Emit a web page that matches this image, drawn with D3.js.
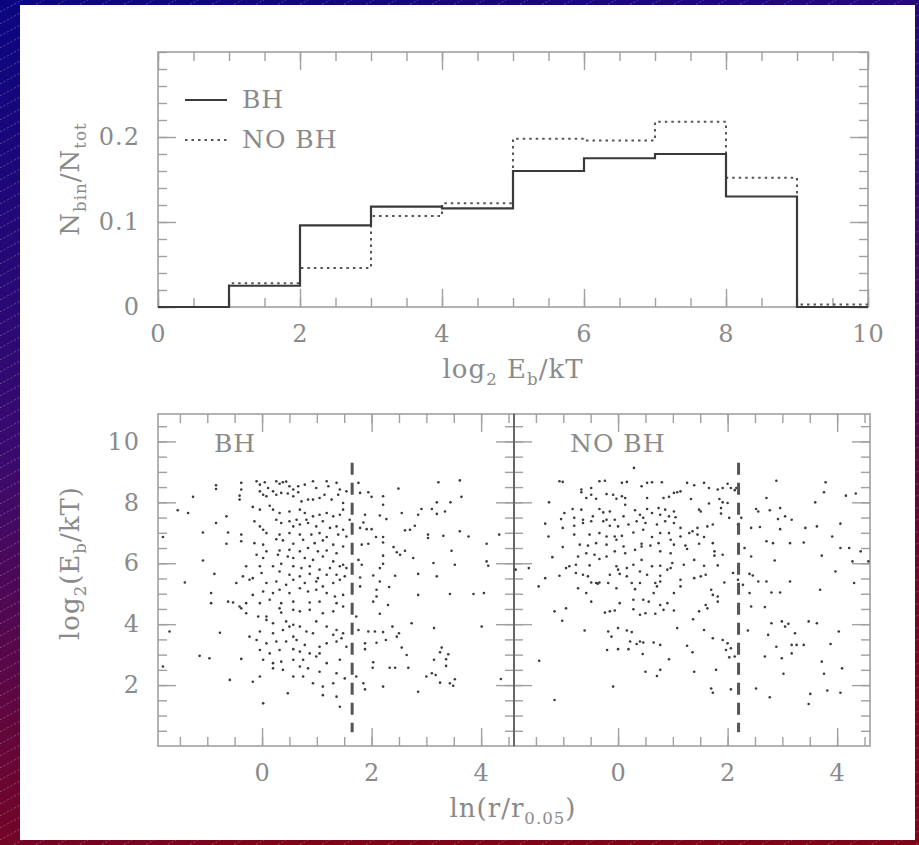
<!DOCTYPE html>
<html>
<head>
<meta charset="utf-8">
<script src="https://cdn.jsdelivr.net/npm/d3@7"></script>
<style>
body { margin: 0; background: #fff; }
text { font-family: "DejaVu Serif", serif; }
</style>
</head>
<body>
<div id="chart-area"></div>
<script>
// histogram of binding energies, bins of log2 Eb/kT
var binEdges = [0, 1, 2, 3, 4, 5, 6, 7, 8, 9, 10];
var histBH   = [0, 0.025, 0.096, 0.118, 0.116, 0.160, 0.175, 0.180, 0.130, 0.000];
var histNoBH = [0, 0.028, 0.046, 0.107, 0.122, 0.198, 0.196, 0.218, 0.152, 0.003];

var histXTicks = [0, 2, 4, 6, 8, 10];
var histYTicks = [0, 0.1, 0.2];
var scatXTicks = [0, 2, 4];
var scatYTicks = [2, 4, 6, 8, 10];

// dashed cuts in ln(r/r0.05)
var cutBH = 1.645;
var cutNoBH = 2.2;
var cutSpan = [0.45, 9.3];

var bhPoints = [
[-0.84,8.56],[-0.84,8.44],[-0.38,8.64],[-0.38,8.42],[-0.10,8.69],[-0.04,8.58],[0.05,8.66],[0.11,8.47],[0.26,8.69],[0.32,8.61],[0.38,8.66],[0.44,8.68],[0.50,8.53],[0.57,8.42],[0.66,8.53],[0.78,8.58],[0.93,8.69],[0.99,8.47],[1.18,8.69],[1.21,8.53],[1.36,8.64],[1.42,8.42],[1.54,8.36],[-0.04,8.36],[0.20,8.36],
[-1.26,8.18],[-0.41,8.22],[-0.41,8.09],[0.02,8.25],[0.08,8.20],[0.26,8.25],[0.35,8.31],[0.47,8.29],[0.57,8.20],[0.66,8.33],[0.72,8.03],[0.84,8.09],[0.93,8.09],[1.05,8.14],[1.14,8.25],[1.27,8.09],[1.39,8.25],[1.48,7.98],[-0.17,7.85],[-0.04,7.76],[0.14,7.89],
[-1.54,7.74],[-1.35,7.65],[0.20,7.76],[0.32,7.65],[0.50,7.70],[0.69,7.76],[0.78,7.65],[0.93,7.54],[1.05,7.59],[1.18,7.65],[1.30,7.54],[1.42,7.59],[1.48,7.76],[0.63,7.43],[0.81,7.43],
[-0.84,7.32],[-0.65,7.54],[-0.14,7.38],[-0.04,7.21],[0.02,7.10],[0.26,7.43],[0.35,7.32],[0.50,7.38],[0.57,7.21],[0.69,7.27],[0.84,7.32],[0.99,7.21],[1.11,7.38],[1.24,7.16],[1.36,7.21],[1.48,7.10],[1.60,7.43],[-1.08,7.01],[-0.62,7.01],[-0.38,6.94],[0.08,6.99],[0.32,6.94],[0.50,6.99],[0.69,6.94],[0.90,6.94],[1.05,6.99],[1.18,6.86],[1.39,6.94],[1.54,6.88],
[-1.81,6.86],[-0.65,6.64],[-0.38,6.72],[-0.14,6.66],[0.02,6.61],[0.26,6.79],[0.38,6.75],[0.57,6.64],[0.75,6.77],[0.96,6.66],[1.11,6.75],[1.30,6.61],[1.48,6.55],[0.08,6.39],[0.32,6.42],[0.50,6.44],[0.69,6.39],[0.84,6.50],[1.02,6.39],[1.18,6.42],[1.36,6.33],
[-0.10,6.28],[0.02,6.17],[0.29,6.28],[0.47,6.22],[0.57,6.17],[0.78,6.17],[0.93,6.11],[1.11,6.22],[1.30,6.06],[1.48,5.95],[1.54,5.84],[-1.08,6.09],[-0.29,5.90],[-0.04,5.90],[0.20,5.90],[0.35,5.98],[0.57,5.90],[0.72,5.84],[0.87,5.90],[1.05,5.79],[1.24,5.84],[1.42,5.90],
[-0.87,5.65],[-0.35,5.57],[-0.17,5.51],[-0.01,5.68],[0.32,5.73],[0.50,5.62],[0.69,5.57],[0.87,5.65],[1.02,5.51],[1.18,5.62],[1.36,5.62],[1.51,5.57],[-1.41,5.37],[-0.47,5.35],[-0.23,5.46],[0.08,5.35],[0.26,5.40],[0.44,5.29],[0.57,5.46],[0.78,5.35],[0.99,5.40],[1.11,5.24],[1.30,5.35],[1.42,5.46],
[-0.93,5.02],[-0.62,4.74],[-0.53,4.71],[-0.41,4.58],[-0.29,4.69],[-0.17,4.96],[0.02,5.07],[0.20,5.02],[0.32,5.13],[0.50,5.02],[0.69,5.18],[0.84,5.07],[0.99,5.13],[1.18,5.02],[1.33,4.91],[1.48,4.96],[-0.93,4.69],[-0.04,4.69],[0.14,4.80],[0.35,4.69],[0.57,4.74],[0.87,4.71],[1.05,4.74],[1.36,4.69],
[-0.38,4.52],[-0.29,4.36],[-0.07,4.25],[0.08,4.25],[0.32,4.52],[0.35,4.38],[0.57,4.47],[0.69,4.42],[0.87,4.47],[1.11,4.36],[1.30,4.42],[1.48,4.58],[0.08,4.14],
[0.20,4.03],[0.44,4.09],[0.50,3.92],[0.57,3.98],[0.69,3.92],[0.81,3.76],[0.99,4.09],[1.18,3.92],[1.36,3.81],[1.48,3.70],[-1.69,3.76],[-0.77,3.72],[-0.23,3.59],[-0.04,3.76],[0.20,3.70],[0.38,3.81],[0.57,3.59],[0.93,3.70],[1.30,3.65],[1.45,3.54],
[-0.10,3.48],[0.08,3.37],[0.26,3.43],[0.44,3.43],[0.63,3.48],[0.78,3.32],[1.05,3.26],[1.18,3.37],[1.36,3.43],[1.54,3.26],[-0.04,3.15],[0.14,3.04],[0.32,3.15],[0.57,3.18],[0.69,3.10],[0.87,3.04],[1.05,3.04],
[-1.14,2.96],[-0.96,2.88],[-0.38,2.86],[0.02,2.83],[0.20,2.72],[0.35,2.77],[0.57,2.83],[0.75,2.83],[0.99,2.94],[1.18,2.72],[1.42,2.83],[-1.81,2.61],[0.20,2.55],[0.38,2.50],[0.69,2.61],[0.84,2.55],[1.05,2.44],[1.36,2.39],
[-0.59,2.17],[-0.17,2.11],[-0.04,2.28],[0.57,2.28],[0.75,2.28],[0.93,2.06],[1.11,1.95],[1.30,2.06],[1.51,2.22],[0.47,1.73],[1.11,1.67],[1.36,1.62],[0.02,1.40],[1.42,1.29],
[1.76,8.64],[1.79,8.31],[1.94,8.33],[2.00,8.18],[2.21,8.20],[2.49,8.45],[2.21,7.92],[1.88,7.59],[2.15,7.57],[2.27,7.45],[2.55,7.65],[2.85,7.59],[2.91,7.78],[3.10,7.78],[3.19,8.00],[3.19,7.62],[3.34,7.70],[3.44,8.00],[3.22,8.66],[3.61,8.72],[3.64,8.18],
[1.85,7.34],[1.79,7.16],[1.91,7.12],[2.00,7.12],[2.61,7.08],[2.70,7.10],[2.79,7.23],[3.03,6.94],[3.03,6.83],[3.31,6.90],[3.61,7.05],[3.77,6.88],[2.08,6.86],[2.21,6.86],[1.94,6.64],[1.82,6.61],[2.21,6.68],[2.40,6.53],[2.46,6.36],[2.52,6.28],[2.61,6.41],[2.21,6.25],[2.76,6.17],[3.46,6.41],[4.10,6.64],[4.33,6.94],
[1.76,6.11],[1.82,5.95],[2.21,5.98],[2.15,5.84],[3.13,6.01],[3.52,5.95],[4.10,6.06],[4.13,5.92],[1.79,5.53],[2.03,5.60],[2.43,5.59],[2.85,5.65],[3.19,5.57],[2.15,5.40],[1.79,5.24],[2.32,5.22],[2.09,5.13],[2.03,4.74],[2.09,4.91],[2.30,4.63],[2.85,4.96],[3.43,4.99],[3.86,4.99],[4.05,5.02],
[1.72,4.25],[2.15,4.34],[1.76,3.81],[1.94,3.76],[2.06,3.76],[2.21,3.74],[2.38,3.92],[2.73,4.03],[3.14,3.87],[4.01,3.92],[2.26,3.48],[2.46,3.59],[2.50,3.70],[1.88,3.37],[2.09,3.39],[2.55,3.23],[1.88,3.18],[3.28,3.23],[3.25,3.08],[3.40,3.01],[2.64,2.99],[3.14,2.83],[3.36,2.85],
[2.03,2.75],[2.02,2.57],[2.33,2.57],[2.43,2.57],[2.67,2.57],[3.36,2.63],[3.00,2.28],[3.10,2.39],[3.17,2.33],[1.72,2.28],[3.25,2.08],[3.52,2.19],[3.43,2.06],[3.49,1.98],[2.21,1.95],[1.85,2.06],[1.88,1.86],[2.85,1.78],[4.36,2.20]
];

var noBhPoints = [
[0.29,9.13],[-1.07,8.69],[-1.01,8.67],[-0.67,8.42],[-0.67,8.33],[-0.49,8.47],[-0.34,8.69],[-0.24,8.71],[0.07,8.64],[0.16,8.67],[0.53,8.64],[0.62,8.66],[0.80,8.66],[0.43,8.53],[-0.58,8.14],[-0.49,8.25],[-0.40,8.12],[-0.21,8.27],[-0.09,8.25],[-0.03,8.12],[0.07,8.20],[0.13,8.14],[0.13,7.92],[0.53,8.14],[0.83,8.14],[0.93,8.18],[1.02,8.31],[1.08,8.33],[1.14,8.36],[1.26,8.64],[1.39,8.56],[1.57,8.64],[1.66,8.47],[1.82,8.42],[1.91,8.47],[2.00,8.61],[2.06,8.47],[2.16,8.47],[2.13,8.40],[1.33,8.11],[1.48,7.76],[1.66,7.96],[1.85,8.11],[1.91,8.00],[2.00,7.98],[-1.26,8.00],[2.89,8.71],[3.79,8.66],[3.76,8.33],[4.16,8.22],[4.34,8.29],[2.71,8.14],[3.60,8.00],
[-0.83,7.78],[-0.67,7.76],[-0.34,7.78],[-0.27,7.67],[-0.15,7.70],[0.31,7.74],[0.53,7.78],[0.74,7.81],[0.86,7.76],[1.02,7.70],[-0.98,7.65],[-0.80,7.49],[-1.04,7.45],[-0.64,7.43],[-0.46,7.54],[-0.21,7.43],[-0.06,7.43],[0.10,7.54],[0.40,7.59],[0.46,7.49],[0.62,7.65],[0.77,7.59],[0.93,7.54],[1.05,7.51],[1.51,7.70],[1.88,7.81],[1.88,7.63],[2.03,7.49],[2.25,7.49],[2.52,7.78],[2.56,7.70],[2.77,7.74],[2.96,7.81],[3.05,7.54],[3.17,7.43],[2.92,7.45],
[-1.33,7.30],[-1.01,7.16],[-0.80,7.23],[-0.64,7.32],[-0.49,7.38],[-0.27,7.38],[-0.15,7.23],[0.00,7.21],[0.19,7.27],[0.34,7.38],[0.50,7.32],[0.71,7.27],[0.86,7.38],[1.02,7.32],[1.14,7.16],[1.30,6.99],[1.36,7.05],[1.45,7.16],[1.63,7.21],[1.73,7.27],[2.19,7.27],[2.43,7.16],[2.59,7.19],[2.96,7.12],[3.42,7.16],[3.63,7.21],[4.06,7.30],
[-1.27,6.88],[-0.80,6.94],[-0.52,6.94],[-0.34,6.99],[-0.21,6.88],[-0.06,6.88],[0.07,6.90],[0.28,7.01],[0.46,7.10],[0.62,6.86],[0.77,6.99],[0.93,6.99],[0.96,6.77],[1.14,6.88],[1.45,6.94],[1.57,6.86],
[-1.01,6.53],[-0.70,6.61],[-0.55,6.58],[-0.40,6.66],[-0.21,6.61],[-0.03,6.77],[0.10,6.55],[0.43,6.64],[0.59,6.58],[0.74,6.66],[1.02,6.61],[1.23,6.58],[1.48,6.64],[1.73,6.66],[2.71,6.72],[2.83,6.66],[3.14,6.66],[3.39,6.68],[3.91,6.88],[4.06,6.50],[4.22,6.50],[4.43,6.39],
[-1.20,6.20],[-0.89,5.90],[-0.73,6.22],[-0.58,6.33],[-0.43,6.28],[-0.21,6.22],[-0.06,6.39],[0.13,6.33],[0.31,6.44],[0.43,6.55],[0.77,6.39],[0.96,6.33],[1.26,6.47],[1.76,6.39],[1.76,6.25],[1.91,6.28],[2.31,6.50],[2.43,6.22],[3.72,6.25],
[-0.95,5.84],[-0.77,5.95],[-0.52,5.93],[-0.34,6.14],[-0.03,5.90],[0.00,5.79],[0.16,5.84],[0.28,5.95],[0.43,6.11],[0.62,5.90],[0.77,5.92],[0.96,5.84],[0.99,6.01],[1.20,5.95],[1.39,6.11],[1.57,5.92],[1.82,5.93],[2.86,6.09],[3.97,5.73],[4.28,6.06],[4.57,6.06],[-1.87,5.79],[-1.63,5.84],
[-1.07,5.59],[-0.77,5.68],[-0.64,5.62],[-0.55,5.57],[-0.40,5.35],[-0.34,5.37],[-0.15,5.62],[0.03,5.65],[0.16,5.57],[0.40,5.73],[0.53,5.62],[0.77,5.59],[0.90,5.79],[1.14,5.46],[1.39,5.51],[1.51,5.57],[1.60,5.62],[2.10,5.68],[2.19,5.46],[2.40,5.65],[2.46,5.60],[2.56,5.40],[2.71,5.40],[3.14,5.40],
[-1.45,5.24],[-1.33,5.51],[-0.73,5.18],[-0.58,5.02],[-0.49,5.37],[-0.37,5.33],[-0.18,5.35],[-0.03,5.18],[0.25,5.35],[0.31,5.15],[0.40,5.35],[0.68,5.35],[0.71,5.24],[0.77,5.40],[1.02,5.02],[1.14,5.24],[1.70,5.13],[1.73,4.96],[1.82,4.91],[1.82,4.74],[1.94,5.37],[2.28,5.29],[2.40,5.02],[2.80,5.04],[2.96,5.04],[3.69,5.13],[4.31,5.35],
[-0.49,4.74],[0.03,4.69],[0.28,4.80],[0.46,4.80],[0.56,4.74],[0.65,5.02],[0.77,4.63],[0.90,4.69],
[-1.16,4.42],[-0.95,4.52],[-0.24,4.38],[-0.15,4.42],[-0.06,4.45],[0.28,4.49],[0.40,4.31],[0.50,4.36],[0.68,4.34],[0.83,4.47],[1.02,4.45],[1.48,4.42],[1.63,4.52],[1.60,4.63],[2.43,4.58],[2.68,4.56],[1.37,4.16],[-1.02,4.11],[2.80,4.03],[2.99,4.09],[3.05,3.92],[3.11,4.01],[3.48,4.09],[3.63,4.03],
[-0.61,3.79],[-0.18,3.76],[0.00,3.87],[0.16,3.79],[0.25,3.74],[1.08,3.87],[1.57,3.81],[1.73,3.54],[1.91,3.48],[2.00,3.37],[2.37,3.79],[2.74,3.65],[3.23,3.70],[4.03,3.76],[-0.12,3.59],[-0.20,3.15],[0.00,3.18],[0.22,3.43],[0.19,3.18],[0.34,3.35],[0.40,3.43],[0.46,3.40],[0.65,3.40],[0.77,3.32],[1.26,3.29],[1.97,3.15],[2.06,3.21],[2.89,3.26],[3.17,3.32],[3.26,3.32],[3.39,3.32],[3.88,3.35],
[-1.44,2.80],[0.45,3.02],[0.93,2.85],[1.36,3.08],[2.03,2.91],[2.13,2.94],[2.68,2.94],[2.99,2.88],[3.17,3.04],[3.72,2.77],[4.09,2.55],[0.50,2.44],[0.77,2.50],[0.71,2.30],[1.39,2.44],[1.79,2.50],[3.02,2.37],[3.76,2.37],
[-0.09,1.95],[1.70,1.89],[1.73,1.75],[2.06,1.86],[2.52,1.89],[2.77,1.60],[3.51,1.71],[3.82,1.82],[4.06,1.75],[3.48,1.38],[-1.16,1.51]
];

var textColor = "#8a8a8a";
var axisColor = "#a0a0a0";

var svg = d3.select("#chart-area")
    .append("svg")
    .attr("width", 919)
    .attr("height", 845);

var defs = svg.append("defs");
var bg = defs.append("linearGradient")
    .attr("id", "bg")
    .attr("x1", "0%").attr("y1", "0%")
    .attr("x2", "30%").attr("y2", "100%");
bg.append("stop").attr("offset", "0%").attr("stop-color", "#0a0680");
bg.append("stop").attr("offset", "50%").attr("stop-color", "#3a0a6e");
bg.append("stop").attr("offset", "100%").attr("stop-color", "#7e0418");

var hatch = defs.append("pattern")
    .attr("id", "hatch")
    .attr("patternUnits", "userSpaceOnUse")
    .attr("width", 22)
    .attr("height", 12);
hatch.append("path")
    .attr("d", "M0,12 L22,0")
    .attr("stroke", "rgba(255,255,255,0.35)")
    .attr("stroke-width", 0.8)
    .attr("stroke-dasharray", "2,2");

svg.append("rect").attr("width", 919).attr("height", 845).attr("fill", "url(#bg)");
svg.append("rect").attr("width", 919).attr("height", 845).attr("fill", "url(#hatch)");
svg.append("rect").attr("x", 20).attr("y", 5).attr("width", 895).attr("height", 835).attr("fill", "#fff");

// scales
var hx = d3.scaleLinear().domain([0, 10]).range([158, 868]);
var hy = d3.scaleLinear().domain([0, 0.3]).range([307, 52]);
var sxL = d3.scaleLinear().domain([-1.9, 4.6]).range([158, 514]);
var sxR = d3.scaleLinear().domain([-1.9, 4.6]).range([514, 870]);
var sy = d3.scaleLinear().domain([0, 10.9]).range([746, 414]);

function ticks(g, make, scale, values, len, labels, pad) {
    var axis = make(scale).tickValues(values).tickSize(-len).tickPadding(pad || 0)
        .tickFormat(labels ? (d => String(+d.toFixed(2))) : () => "");
    var a = g.append("g").call(axis);
    a.select(".domain").remove();
    a.selectAll("line").attr("stroke", axisColor).attr("stroke-width", 1.4);
    a.selectAll("text")
        .attr("fill", textColor)
        .attr("font-size", "24px")
        .attr("letter-spacing", "1px")
        .attr("font-family", "DejaVu Serif");
    return a;
}

function panel(g, x, y, xMinor, xMajor, yMinor, yMajor, showX, showY) {
    var gb = g.append("g").attr("transform", "translate(0," + y.range()[0] + ")");
    ticks(gb, d3.axisBottom, x, xMinor, 9, false);
    ticks(gb, d3.axisBottom, x, xMajor, 18, showX, 18);
    var gt = g.append("g").attr("transform", "translate(0," + y.range()[1] + ")");
    ticks(gt, d3.axisTop, x, xMinor, 9, false);
    ticks(gt, d3.axisTop, x, xMajor, 18, false);
    var gl = g.append("g").attr("transform", "translate(" + x.range()[0] + ",0)");
    ticks(gl, d3.axisLeft, y, yMinor, 9, false);
    ticks(gl, d3.axisLeft, y, yMajor, 18, showY, 18);
    var gr = g.append("g").attr("transform", "translate(" + x.range()[1] + ",0)");
    ticks(gr, d3.axisRight, y, yMinor, 9, false);
    ticks(gr, d3.axisRight, y, yMajor, 18, false);
    g.append("rect")
        .attr("x", x.range()[0]).attr("y", y.range()[1])
        .attr("width", x.range()[1] - x.range()[0])
        .attr("height", y.range()[0] - y.range()[1])
        .attr("fill", "none")
        .attr("stroke", axisColor)
        .attr("stroke-width", 1.6);
}

function label(g, x, y, parts, size, rotate, anchor) {
    var t = g.append("text")
        .attr("transform", "translate(" + x + "," + y + ")" + (rotate ? " rotate(-90)" : ""))
        .attr("text-anchor", anchor || "middle")
        .attr("fill", textColor)
        .attr("font-size", size + "px")
        .attr("letter-spacing", "1px");
    var shift = 0;
    parts.forEach(p => {
        var s = p[1] ? 7 : 0;
        t.append("tspan")
            .attr("dy", s - shift)
            .attr("font-size", p[1] ? (size * 0.64) + "px" : null)
            .text(p[0]);
        shift = s;
    });
    return t;
}

// ---- top: histogram ----
var histG = svg.append("g");
panel(histG, hx, hy,
    d3.range(0, 10.001, 0.5), histXTicks,
    d3.range(0, 0.3001, 0.02), histYTicks, true, true);

var step = d3.line()
    .x(d => hx(d[0]))
    .y(d => hy(d[1]))
    .curve(d3.curveStepAfter);

function stepPts(vals) {
    var pts = vals.map((v, i) => [binEdges[i], v]);
    pts.push([binEdges[binEdges.length - 1], vals[vals.length - 1]]);
    return pts;
}

histG.append("path")
    .attr("d", step(stepPts(histNoBH)))
    .attr("fill", "none")
    .attr("stroke", "#555")
    .attr("stroke-width", 2)
    .attr("stroke-dasharray", "2.5,4");

histG.append("path")
    .attr("d", step(stepPts(histBH)))
    .attr("fill", "none")
    .attr("stroke", "#3a3a3a")
    .attr("stroke-width", 2.2);

// legend
histG.append("line").attr("x1", 185).attr("x2", 227).attr("y1", 100).attr("y2", 100)
    .attr("stroke", "#3a3a3a").attr("stroke-width", 2.2);
histG.append("line").attr("x1", 185).attr("x2", 227).attr("y1", 140).attr("y2", 140)
    .attr("stroke", "#555").attr("stroke-width", 2).attr("stroke-dasharray", "2.5,4");
label(histG, 242, 108, [["BH", 0]], 25, false, "start");
label(histG, 242, 148, [["NO BH", 0]], 25, false, "start");

label(histG, 513, 378, [["log", 0], ["2", 1], ["  E", 0], ["b", 1], ["/kT", 0]], 26, false);
label(histG, 79, 179, [["N", 0], ["bin", 1], ["/N", 0], ["tot", 1]], 26, true);

// ---- bottom: scatter panels ----
var scatG = svg.append("g");
var xMinor = d3.range(-1.5, 4.6, 0.5);
var yMinor = d3.range(0.5, 10.9, 0.5);
panel(scatG, sxL, sy, xMinor, scatXTicks, yMinor, scatYTicks, true, true);
panel(scatG, sxR, sy, xMinor, scatXTicks, yMinor, scatYTicks, true, false);

scatG.append("line")
    .attr("x1", sxL.range()[1]).attr("x2", sxL.range()[1])
    .attr("y1", sy.range()[0]).attr("y2", sy.range()[1])
    .attr("stroke", "#666").attr("stroke-width", 2);

function scatter(data, x) {
    scatG.append("g").selectAll("circle")
        .data(data)
        .enter()
        .append("circle")
        .attr("cx", d => x(d[0]))
        .attr("cy", d => sy(d[1]))
        .attr("r", 1.3)
        .attr("fill", "#3a3a3a");
}
scatter(bhPoints, sxL);
scatter(noBhPoints, sxR);

function cut(x, v) {
    scatG.append("line")
        .attr("x1", x(v)).attr("x2", x(v))
        .attr("y1", sy(cutSpan[1])).attr("y2", sy(cutSpan[0]))
        .attr("stroke", "#555")
        .attr("stroke-width", 3)
        .attr("stroke-dasharray", "12,8");
}
cut(sxL, cutBH);
cut(sxR, cutNoBH);

label(scatG, 214, 452, [["BH", 0]], 25, false, "start");
label(scatG, 570, 452, [["NO BH", 0]], 25, false, "start");

label(scatG, 513, 817, [["ln(r/r", 0], ["0.05", 1], [")", 0]], 26, false);
label(scatG, 79, 563, [["log", 0], ["2", 1], ["(E", 0], ["b", 1], ["/kT)", 0]], 26, true);
</script>
</body>
</html>
